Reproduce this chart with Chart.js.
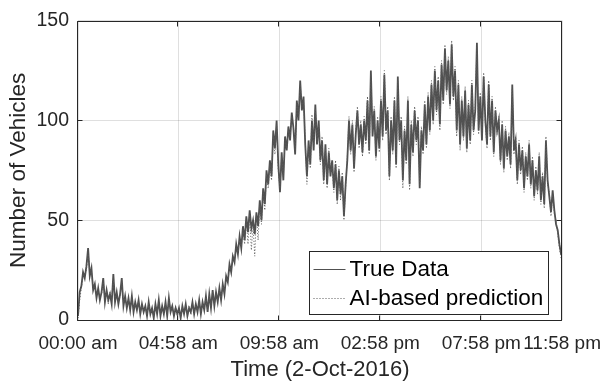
<!DOCTYPE html>
<html><head><meta charset="utf-8">
<script src="https://cdn.jsdelivr.net/npm/chart.js@4"></script>
<style>html,body{margin:0;padding:0;background:#fff;}canvas{display:block;}</style>
</head><body>
<canvas id="c" width="613" height="390"></canvas>
<script>
// ---- data (one value every 5 minutes, 2-Oct-2016) ----
const stepMinutes = 5;
const trueData = [
  2,14,17,24,21,27,36,22,26,15,
  18,11,16,10,14,21,9,15,10,13,
  8,23,9,14,8,13,21,7,12,6,
  11,5,12,4,9,5,10,3,8,4,
  7,2,9,3,6,1,8,3,10,2,
  7,3,9,2,11,4,7,2,6,3,
  6,1,7,3,8,2,6,4,9,3,
  8,4,10,3,9,5,12,4,13,6,
  15,7,14,9,16,10,18,13,22,19,
  28,24,32,29,38,33,42,36,47,40,
  52,44,55,46,50,43,54,47,60,50,
  66,58,75,68,80,72,95,86,100,78,
  64,84,70,92,85,97,90,104,96,83,
  110,100,120,105,112,88,72,90,78,100,
  85,108,88,100,80,90,70,88,68,84,
  72,80,66,78,60,75,63,72,52,68,
  80,100,85,98,76,93,105,88,98,84,
  100,90,110,85,125,92,105,82,100,86,
  110,92,123,95,105,72,100,85,110,78,
  122,90,100,70,95,80,110,68,98,84,
  105,90,100,66,95,85,108,88,112,95,
  118,100,125,105,120,98,128,110,136,115,
  130,108,138,112,125,95,118,88,110,92,
  115,86,108,90,118,95,105,139,95,112,
  90,122,100,88,118,92,110,84,105,95,
  100,80,98,76,95,82,92,78,118,85,
  90,70,88,75,85,66,82,72,88,68,
  80,62,75,65,82,60,72,58,90,70,
  62,54,65,55,48,45,38,33
];
const predData = [
  1,10,16,22,23,25,33,26,24,17,
  16,13,14,12,13,19,11,14,8,14,
  10,20,11,13,9,12,19,9,11,7,
  10,6,11,5,8,6,9,4,7,5,
  6,3,8,4,5,2,7,4,9,3,
  6,4,8,3,10,5,6,3,7,2,
  5,2,6,4,7,3,7,3,8,4,
  7,5,9,4,8,6,11,5,12,7,
  14,8,13,10,15,11,17,14,21,20,
  26,25,30,30,36,34,40,37,45,38,
  50,38,53,35,48,32,52,40,58,48,
  64,55,73,66,78,70,92,83,98,75,
  66,82,72,90,86,95,92,102,97,85,
  108,102,118,107,110,90,68,88,76,103,
  87,106,90,98,78,92,68,86,66,86,
  74,78,64,80,58,77,60,74,50,66,
  82,102,83,100,74,95,107,86,100,82,
  102,88,112,83,123,95,107,80,102,84,
  112,90,125,93,107,70,102,83,112,76,
  120,88,102,66,97,78,112,65,100,82,
  107,88,102,68,97,83,110,86,114,93,
  120,98,127,103,122,95,130,108,138,113,
  132,106,140,110,127,92,120,85,112,90,
  117,84,110,88,120,93,107,137,93,114,
  92,124,98,86,120,90,112,82,107,93,
  102,78,100,74,97,80,94,76,116,83,
  92,68,90,73,87,64,84,70,90,66,
  82,60,77,63,84,58,74,56,92,68,
  64,52,63,53,50,43,36,31
];
const xMaxMinutes = 1438;
const tickMinutes = [0, 298, 598, 898, 1198, 1438];
const tickLabels = ['00:00 am', '04:58 am', '09:58 am', '02:58 pm', '07:58 pm', '11:58 pm'];
const yMax = 150;
const yStep = 50;
const seriesLabels = ['True Data', 'AI-based prediction'];
const xTitle = 'Time (2-Oct-2016)';
const yTitle = 'Number of Vehicles';

// ---- styling ----
const FONT = "'Liberation Sans', Arial, Helvetica, sans-serif";
const AXIS_COLOR = '#262626';
const GRID_COLOR = 'rgba(38,38,38,0.15)';
const TRUE_COLOR = '#505050';
const PRED_COLOR = '#5a5a5a';

const toPoints = arr => arr.map((v, i) => ({ x: i * stepMinutes, y: v }));

const axesBox = {
  id: 'axesBox',
  afterDatasetsDraw(chart) {
    const { ctx, chartArea: a, scales } = chart;
    const L = Math.round(a.left) - 0.5, R = Math.round(a.right) - 0.5;
    const T = Math.round(a.top) + 0.5, B = Math.round(a.bottom) + 0.5;
    ctx.save();
    ctx.strokeStyle = AXIS_COLOR;
    ctx.lineWidth = 1;
    ctx.beginPath();
    ctx.rect(L, T, R - L, B - T);
    const tl = 5;
    scales.x.ticks.forEach(t => {
      const px = Math.round(scales.x.getPixelForValue(t.value)) - 0.5;
      ctx.moveTo(px, B); ctx.lineTo(px, B - tl);
      ctx.moveTo(px, T); ctx.lineTo(px, T + tl);
    });
    scales.y.ticks.forEach(t => {
      const py = Math.round(scales.y.getPixelForValue(t.value)) + 0.5;
      ctx.moveTo(L, py); ctx.lineTo(L + tl, py);
      ctx.moveTo(R, py); ctx.lineTo(R - tl, py);
    });
    ctx.stroke();
    ctx.restore();
  },
  afterDraw(chart) {
    const { ctx, chartArea: a } = chart;
    const fs = 22.5;
    ctx.save();
    ctx.font = fs + 'px ' + FONT;
    const textW = Math.max(...seriesLabels.map(s => ctx.measureText(s).width));
    const padL = 4, lineLen = 32, gap = 4, padR = 6;
    const w = padL + lineLen + gap + textW + padR;
    const h = 63;
    const right = Math.round(a.right) - 13.5;
    const bottom = Math.round(a.bottom) - 5.5;
    const left = Math.round(right - w) + 0.5;
    const top = bottom - h;
    ctx.fillStyle = '#ffffff';
    ctx.fillRect(left, top, right - left, bottom - top);
    ctx.strokeStyle = AXIS_COLOR;
    ctx.lineWidth = 1;
    ctx.strokeRect(left, top, right - left, bottom - top);
    const rows = [top + 17, top + 46.5];
    const styles = [{ c: TRUE_COLOR, d: [] }, { c: PRED_COLOR, d: [1, 2] }];
    rows.forEach((ry, i) => {
      ctx.beginPath();
      ctx.strokeStyle = styles[i].c;
      ctx.setLineDash(styles[i].d);
      ctx.moveTo(left + padL, Math.round(ry) + 0.5);
      ctx.lineTo(left + padL + lineLen, Math.round(ry) + 0.5);
      ctx.stroke();
      ctx.setLineDash([]);
      ctx.fillStyle = '#000000';
      ctx.textBaseline = 'middle';
      ctx.textAlign = 'left';
      ctx.fillText(seriesLabels[i], left + padL + lineLen + gap, ry + 1);
    });
    ctx.restore();
  }
};

new Chart(document.getElementById('c'), {
  type: 'line',
  data: {
    datasets: [
      {
        label: seriesLabels[0],
        data: toPoints(trueData),
        borderColor: TRUE_COLOR,
        borderWidth: 1.8,
        pointRadius: 0,
        tension: 0,
        order: 2
      },
      {
        label: seriesLabels[1],
        data: toPoints(predData),
        borderColor: PRED_COLOR,
        borderWidth: 1,
        borderDash: [1, 2],
        pointRadius: 0,
        tension: 0,
        order: 1
      }
    ]
  },
  options: {
    responsive: false,
    animation: false,
    devicePixelRatio: 1,
    layout: { padding: { top: 11, right: 47, left: 0, bottom: 0 } },
    plugins: { legend: { display: false }, tooltip: { enabled: false } },
    scales: {
      x: {
        type: 'linear',
        min: 0,
        max: xMaxMinutes,
        afterBuildTicks: s => { s.ticks = tickMinutes.map(v => ({ value: v })); },
        afterFit: s => { s.height = 70; },
        grid: { color: GRID_COLOR, drawTicks: false, lineWidth: 1 },
        border: { display: false },
        ticks: {
          autoSkip: false, maxRotation: 0, minRotation: 0,
          padding: 12,
          color: AXIS_COLOR,
          font: { family: FONT, size: 19 },
          callback: v => tickLabels[tickMinutes.indexOf(v)]
        },
        title: {
          display: true, text: xTitle, color: AXIS_COLOR,
          font: { family: FONT, size: 22 },
          padding: { top: 0, bottom: 7 }
        }
      },
      y: {
        min: 0,
        max: yMax,
        afterFit: s => { s.width = 78; },
        grid: { color: GRID_COLOR, drawTicks: false, lineWidth: 1 },
        border: { display: false },
        ticks: {
          stepSize: yStep,
          padding: 9,
          color: AXIS_COLOR,
          font: { family: FONT, size: 19.5 }
        },
        title: {
          display: true, text: yTitle, color: AXIS_COLOR,
          font: { family: FONT, size: 22.5 },
          padding: { top: 5.5, bottom: 0 }
        }
      }
    }
  },
  plugins: [axesBox]
});
</script>
</body></html>
